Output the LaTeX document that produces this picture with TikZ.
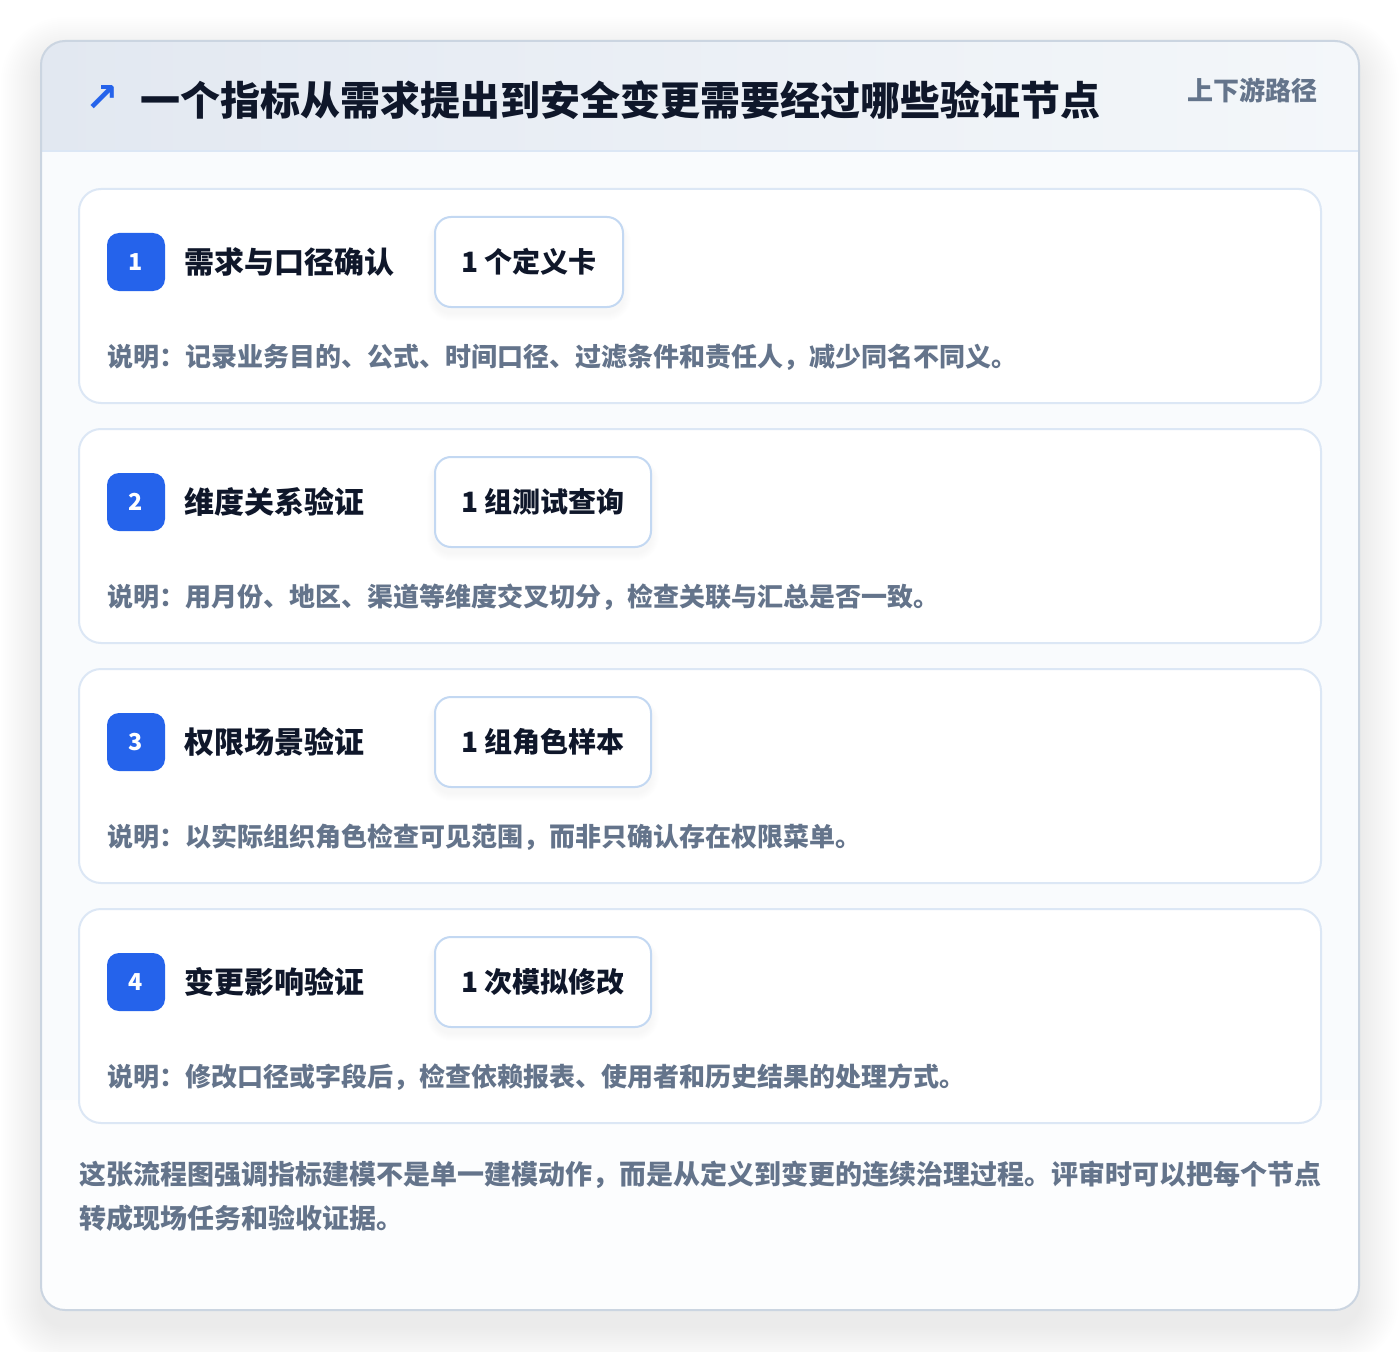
\documentclass[tikz,border=0pt]{standalone}
\usepackage{fontspec}
\setmainfont{Noto Sans CJK SC}
\newfontfamily\symfont{DejaVu Sans}
\definecolor{ink}{HTML}{0F172A}
\definecolor{muted}{HTML}{64748B}
\definecolor{brand}{HTML}{2563EB}
\definecolor{cardline}{HTML}{DCE7F5}
\definecolor{tagline}{HTML}{C3D8F2}
\definecolor{outerline}{HTML}{CBD5E1}
\definecolor{hdrL}{HTML}{E2E8F1}
\definecolor{hdrR}{HTML}{F4F7FA}
\definecolor{panelbg}{HTML}{F9FBFD}
\tikzset{
  cardbox/.style={draw=cardline, line width=1.5pt, fill=white, rounded corners=16.5pt,
    minimum width=931.5pt, minimum height=160.5pt, inner sep=0pt},
  badge/.style={fill=brand, rounded corners=9pt, minimum width=43.5pt, minimum height=43.5pt,
    inner sep=0pt, text=white, font=\fontsize{17.5pt}{19pt}\selectfont\bfseries},
  cardtitle/.style={anchor=west, inner sep=0pt, text=ink, font=\fontsize{22.5pt}{26pt}\selectfont\bfseries},
  tagbox/.style={draw=tagline, line width=1.5pt, fill=white, rounded corners=12pt,
    minimum height=67.5pt, inner sep=0pt, text=ink, font=\fontsize{21pt}{24pt}\selectfont\bfseries},
  desc/.style={anchor=west, inner sep=0pt, text=muted, font=\fontsize{19.5pt}{22pt}\selectfont\bfseries},
}
\begin{document}
\begin{tikzpicture}[x=0.75pt,y=-0.75pt]
\useasboundingbox (0,0) rectangle (1400,1352);
\fill[white] (0,0) rectangle (1400,1352);
% soft shadow of the panel
\foreach \k in {1,...,20}{
  \fill[black, opacity=0.004, rounded corners={18pt+\k*1.5pt}]
    (41-2*\k, 41-2*\k+16) rectangle (1359+2*\k, 1310+2*\k+16);
}
% panel
\fill[panelbg, rounded corners=18pt] (41,41) rectangle (1359,1310);
\begin{scope}
  \clip[rounded corners=18pt] (41,41) rectangle (1359,1310);
  \shade[left color=hdrL, right color=hdrR] (41,41) rectangle (1359,151);
  \fill[white, opacity=0.5] (41,1100) rectangle (1359,1310);
\end{scope}
\draw[cardline, line width=1.5pt] (41,151) -- (1359,151);
\node[draw=outerline, line width=1.5pt, rounded corners=18pt, minimum width=988.5pt,
  minimum height=951.75pt, inner sep=0pt] (panel) at (700,675.5) {};
% header
\node[text=brand, inner sep=0pt, font=\symfont\bfseries\fontsize{30pt}{32pt}\selectfont] (icon) at (102,99) {↗};
\node[anchor=west, inner sep=0pt, text=ink, font=\fontsize{30pt}{34pt}\selectfont\bfseries] (title) at (140,100)
  {一个指标从需求提出到安全变更需要经过哪些验证节点};
\node[anchor=east, inner sep=0pt, text=muted, font=\fontsize{19.5pt}{22pt}\selectfont\bfseries] (tagline) at (1318,90)
  {上下游路径};
% cards
\foreach \i/\y/\ttl/\tg/\tw/\ds in {
  1/189/需求与口径确认/1 个定义卡/188/说明：记录业务目的、公式、时间口径、过滤条件和责任人，减少同名不同义。,
  2/429/维度关系验证/1 组测试查询/216/说明：用月份、地区、渠道等维度交叉切分，检查关联与汇总是否一致。,
  3/669/权限场景验证/1 组角色样本/216/说明：以实际组织角色检查可见范围，而非只确认存在权限菜单。,
  4/909/变更影响验证/1 次模拟修改/216/说明：修改口径或字段后，检查依赖报表、使用者和历史结果的处理方式。}{
  \node[cardbox] (card\i) at (700,\y+107) {};
  \foreach \k in {1,...,8}{
    \fill[black, opacity=0.005, rounded corners={12pt+\k*0.75pt}]
      (435-\k, \y+28+4-\k*0.4) rectangle (435+\tw+\k, \y+118+6+\k);
  }
  \node[badge] (badge\i) at (136,\y+73) {\i};
  \node[cardtitle] (ctitle\i) at (184,\y+73) {\ttl};
  \node[tagbox, minimum width={\tw*0.75pt}] (tag\i) at (435+\tw/2,\y+73) {\tg};
  \node[desc] (desc\i) at (107,\y+168) {\ds};
}
% footer
\node[anchor=west, inner sep=0pt, text=muted, font=\fontsize{20.25pt}{22pt}\selectfont\bfseries] (foot1) at (79,1175)
  {这张流程图强调指标建模不是单一建模动作，而是从定义到变更的连续治理过程。评审时可以把每个节点};
\node[anchor=west, inner sep=0pt, text=muted, font=\fontsize{20.25pt}{22pt}\selectfont\bfseries] (foot2) at (79,1218)
  {转成现场任务和验收证据。};
\end{tikzpicture}
\end{document}
